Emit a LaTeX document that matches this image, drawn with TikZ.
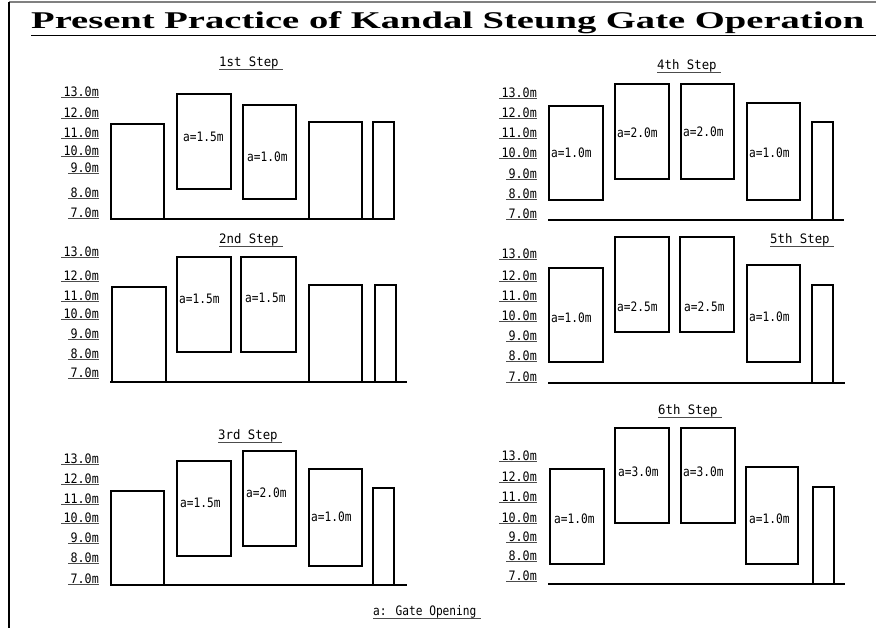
\documentclass[tikz,border=0pt]{standalone}
\usepackage{graphicx}
\usepackage{fontspec}
\setmainfont{Liberation Serif}
\newfontfamily\gfont[FakeStretch=0.9]{DejaVu Sans Mono}
\newfontfamily\afont[FakeStretch=0.86]{DejaVu Sans Mono}
\newfontfamily\sfont[FakeStretch=0.95]{DejaVu Sans Mono}
\begin{document}
\begin{tikzpicture}[x=1pt,y=-1pt,
  gate/.style={line width=2.2pt},
  ground/.style={line width=2pt},
  lab/.style={font=\gfont\fontsize{13}{13}\selectfont, inner sep=0pt},
  glab/.style={font=\afont\fontsize{13}{13}\selectfont, inner sep=0pt, anchor=west},
  steplab/.style={font=\sfont\fontsize{13}{13}\selectfont, inner sep=0pt, anchor=west},
  uline/.style={line width=0.9pt, black!70},
  frame/.style={line width=1.2pt}]
\useasboundingbox (0,0) rectangle (876,628);
% frame
\draw[line width=1.5pt, black!50] (9,2) -- (876,2);
\draw[frame] (9,2) -- (9,628);
\node[inner sep=0pt, anchor=base west] (title) at (31,29)
  {\resizebox{833pt}{\height}{\fontsize{24}{24}\selectfont\bfseries Present Practice of Kandal Steung Gate Operation}};
\draw[line width=1pt] (31,36) -- (876,36);

% ---------- step titles ----------
\node[steplab] (s1) at (219,63) {1st Step};
\node[steplab] (s2) at (219,240) {2nd Step};
\node[steplab] (s3) at (218,436) {3rd Step};
\node[steplab] (s4) at (657,66) {4th Step};
\node[steplab] (s5) at (770,240) {5th Step};
\node[steplab] (s6) at (658,411) {6th Step};
\node[glab] (leg) at (373,612) {a: Gate Opening};
\foreach \n in {s1,s2,s3,s4,s5,s6,leg}
  \draw[uline] ([yshift=-6pt]\n.west) -- ([xshift=4pt,yshift=-6pt]\n.east);

% ---------- level labels ----------
\foreach \t/\y [count=\i] in {13/92,12/113,11/133,10/151,9/168,8/193,7/213}
  {\node[lab,anchor=east] (pa\i) at (99,\y) {\t.0m};
   \draw[uline] ([xshift=-2pt,yshift=-5.5pt]pa\i.west) -- ([yshift=-5.5pt]pa\i.east);}
\foreach \t/\y [count=\i] in {13/252,12/276,11/296,10/314,9/334,8/354,7/373}
  {\node[lab,anchor=east] (pb\i) at (99,\y) {\t.0m};
   \draw[uline] ([xshift=-2pt,yshift=-5.5pt]pb\i.west) -- ([yshift=-5.5pt]pb\i.east);}
\foreach \t/\y [count=\i] in {13/459,12/479,11/499,10/518,9/538,8/558,7/579}
  {\node[lab,anchor=east] (pc\i) at (99,\y) {\t.0m};
   \draw[uline] ([xshift=-2pt,yshift=-5.5pt]pc\i.west) -- ([yshift=-5.5pt]pc\i.east);}
\foreach \t/\y [count=\i] in {13/93,12/113,11/133,10/153,9/174,8/194,7/214}
  {\node[lab,anchor=east] (pd\i) at (537,\y) {\t.0m};
   \draw[uline] ([xshift=-2pt,yshift=-5.5pt]pd\i.west) -- ([yshift=-5.5pt]pd\i.east);}
\foreach \t/\y [count=\i] in {13/254,12/276,11/296,10/316,9/336,8/356,7/377}
  {\node[lab,anchor=east] (pe\i) at (537,\y) {\t.0m};
   \draw[uline] ([xshift=-2pt,yshift=-5.5pt]pe\i.west) -- ([yshift=-5.5pt]pe\i.east);}
\foreach \t/\y [count=\i] in {13/456,12/477,11/497,10/518,9/537,8/556,7/576}
  {\node[lab,anchor=east] (pf\i) at (537,\y) {\t.0m};
   \draw[uline] ([xshift=-2pt,yshift=-5.5pt]pf\i.west) -- ([yshift=-5.5pt]pf\i.east);}

% ---------- panel 1 ----------
\draw[ground] (110,219) -- (395,219);
\draw[gate] (111,124) rectangle (164,219);
\draw[gate] (177,94) rectangle (231,189);
\draw[gate] (243,105) rectangle (296,199);
\draw[gate] (309,122) rectangle (362,219);
\draw[gate] (373,122) rectangle (394,219);
\node[glab] (g11) at (183,137) {a=1.5m};
\node[glab] (g12) at (247,157) {a=1.0m};

% ---------- panel 2 ----------
\draw[ground] (110,382) -- (407,382);
\draw[gate] (112,287) rectangle (166,382);
\draw[gate] (177,257) rectangle (231,352);
\draw[gate] (241,257) rectangle (296,352);
\draw[gate] (309,285) rectangle (362,382);
\draw[gate] (375,285) rectangle (396,382);
\node[glab] (g21) at (179,299) {a=1.5m};
\node[glab] (g22) at (245,298) {a=1.5m};

% ---------- panel 3 ----------
\draw[ground] (110,585) -- (407,585);
\draw[gate] (111,491) rectangle (164,585);
\draw[gate] (177,461) rectangle (231,556);
\draw[gate] (243,451) rectangle (296,546);
\draw[gate] (309,469) rectangle (362,566);
\draw[gate] (373,488) rectangle (394,585);
\node[glab] (g31) at (180,503) {a=1.5m};
\node[glab] (g32) at (246,493) {a=2.0m};
\node[glab] (g33) at (311,517) {a=1.0m};

% ---------- panel 4 ----------
\draw[ground] (548,220) -- (844,220);
\draw[gate] (549,106) rectangle (603,200);
\draw[gate] (615,84) rectangle (669,179);
\draw[gate] (681,84) rectangle (734,179);
\draw[gate] (747,103) rectangle (800,200);
\draw[gate] (812,122) rectangle (833,220);
\node[glab] (g41) at (551,153) {a=1.0m};
\node[glab] (g42) at (617,133) {a=2.0m};
\node[glab] (g43) at (683,132) {a=2.0m};
\node[glab] (g44) at (749,153) {a=1.0m};

% ---------- panel 5 ----------
\draw[ground] (548,383) -- (845,383);
\draw[gate] (549,268) rectangle (603,362);
\draw[gate] (615,237) rectangle (669,332);
\draw[gate] (680,237) rectangle (734,332);
\draw[gate] (747,265) rectangle (800,362);
\draw[gate] (812,285) rectangle (833,383);
\node[glab] (g51) at (551,318) {a=1.0m};
\node[glab] (g52) at (617,307) {a=2.5m};
\node[glab] (g53) at (684,307) {a=2.5m};
\node[glab] (g54) at (749,317) {a=1.0m};

% ---------- panel 6 ----------
\draw[ground] (548,584) -- (845,584);
\draw[gate] (550,469) rectangle (604,564);
\draw[gate] (615,428) rectangle (669,523);
\draw[gate] (681,428) rectangle (735,523);
\draw[gate] (746,467) rectangle (798,564);
\draw[gate] (813,487) rectangle (834,584);
\node[glab] (g61) at (554,519) {a=1.0m};
\node[glab] (g62) at (618,472) {a=3.0m};
\node[glab] (g63) at (683,472) {a=3.0m};
\node[glab] (g64) at (749,519) {a=1.0m};
\end{tikzpicture}
\end{document}
